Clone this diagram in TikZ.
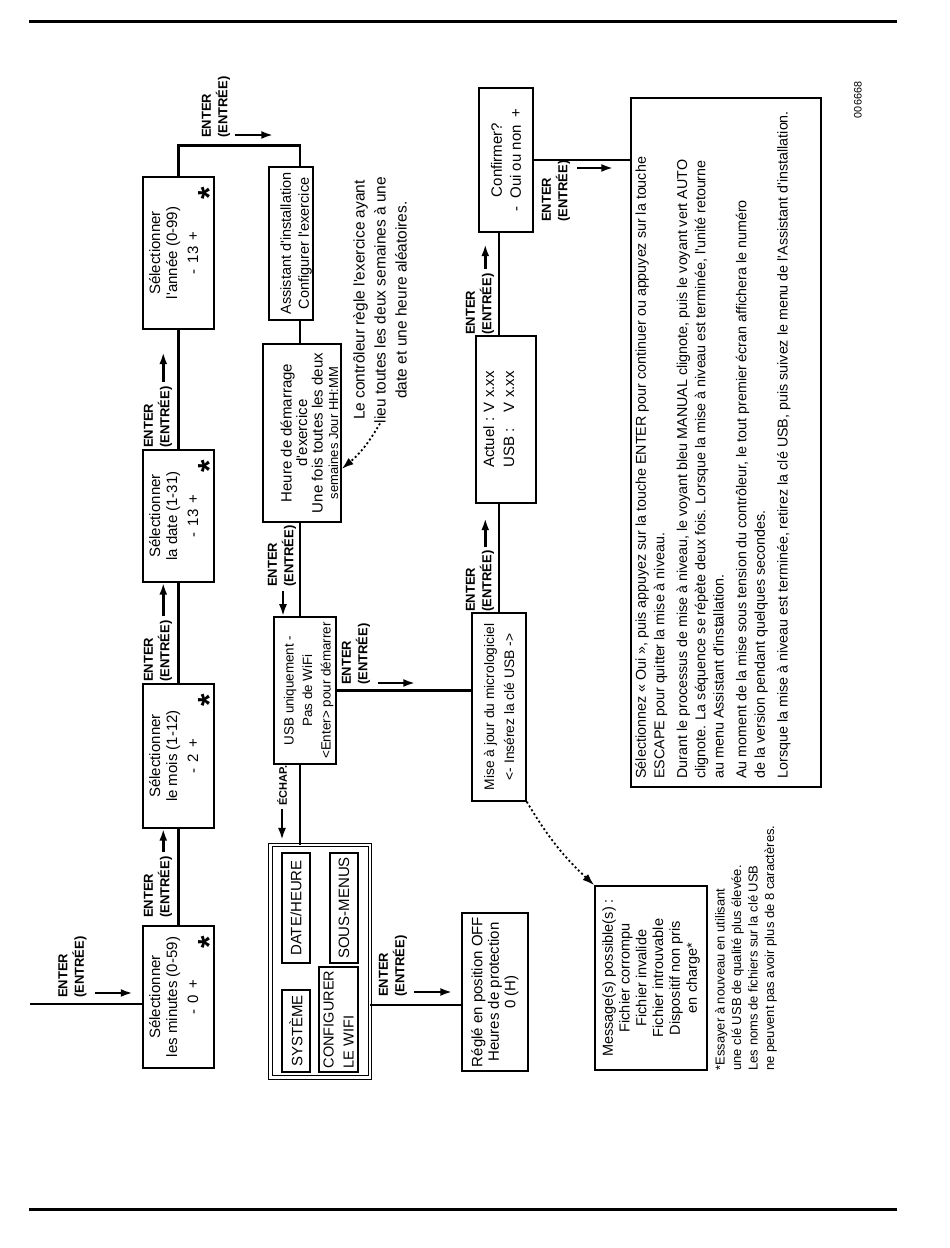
\documentclass[tikz,border=0pt]{standalone}
\usepackage{fontspec}
\setmainfont{Liberation Sans}[Ligatures=TeXOff]
\usepackage{tikz}
\usetikzlibrary{arrows.meta,positioning,calc}

\newcommand\boxfont{\fontsize{15}{17}\selectfont}
\newcommand\lblfont{\fontsize{13}{16.5}\selectfont\bfseries}
\newcommand\starfont{\fontsize{32}{32}\selectfont\bfseries}

\begin{document}
\begin{tikzpicture}[x=1pt, y=1pt, >={Latex[length=12pt, width=8pt]},
  box/.style={draw, line width=1.5pt, align=center, inner sep=0pt, font=\boxfont},
  subbox/.style={draw, line width=1.3pt, inner sep=0pt, font=\boxfont},
  enter/.style={align=left, inner sep=0pt, font=\lblfont},
  link/.style={line width=2.6pt},
  hint/.style={->, dash pattern=on 2pt off 2.5pt, line width=1.8pt},
  star/.style={inner sep=0pt, anchor=base, font=\starfont}]
  \useasboundingbox (0,0) rectangle (950,1248);
  % page rules
  \draw[line width=3pt] (29,1226) -- (897,1226);
  \draw[line width=3pt] (29,38) -- (897,38);

  \begin{scope}[rotate=90, transform shape]
  % date and time settings
  \node[box, minimum width=142, minimum height=71] (mins) at (251,-178.5)
    {Sélectionner\\les minutes (0-59)\\[4pt]-\hspace{6pt}0\hspace{6pt}+\rule[-10pt]{0pt}{10pt}};
  \node[box, minimum width=144, minimum height=71] (mois) at (492,-178.5)
    {Sélectionner\\le mois (1-12)\\[4pt]-\hspace{6pt}2\hspace{6pt}+\rule[-10pt]{0pt}{10pt}};
  \node[box, minimum width=132, minimum height=71] (date) at (732,-178.5)
    {Sélectionner\\la date (1-31)\\[4pt]-\hspace{6pt}13\hspace{6pt}+\rule[-10pt]{0pt}{10pt}};
  \node[box, minimum width=152, minimum height=71] (annee) at (995,-178.5)
    {Sélectionner\\l'année (0-99)\\[4pt]-\hspace{6pt}13\hspace{6pt}+\rule[-10pt]{0pt}{10pt}};
  \node[star] (minsstar) at ($(mins.south east)+(-17,-6)$) {*};
  \node[star] (moisstar) at ($(mois.south east)+(-17,-6)$) {*};
  \node[star] (datestar) at ($(date.south east)+(-17,-6)$) {*};
  \node[star] (anneestar) at ($(annee.south east)+(-17,-6)$) {*};

  % exercise and menus
  \node[box, minimum width=153, minimum height=44, font=\fontsize{14.5}{18}\selectfont] (assist) at (1004.5,-291)
    {\rule{0pt}{21pt}Assistant d'installation\\Configurer l'exercice};
  \node[box, minimum width=178, minimum height=78, font=\fontsize{15}{15.5}\selectfont] (heure) at (815,-302)
    {\rule{0pt}{26pt}Heure de démarrage\\d'exercice\\Une fois toutes les deux\\{\fontsize{13}{15.5}\selectfont semaines Jour HH:MM}};
  \node[align=center, inner sep=0pt, font=\fontsize{15.5}{21}\selectfont] (note) at (948,-380)
    {Le contrôleur règle l'exercice ayant\\lieu toutes les deux semaines à une\\date et une heure aléatoires.};
  \node[box, minimum width=147, minimum height=62, font=\fontsize{13.4}{18.5}\selectfont] (usb) at (557.5,-305)
    {\rule{0pt}{17pt}USB uniquement -\\Pas de WiFi\\<Enter>\hspace{4pt}pour démarrer};
  \node[draw, double, double distance=2.5pt, line width=1pt, minimum width=232.5, minimum height=99.5] (menu) at (286.5,-320) {};
  \node[subbox, minimum width=82, minimum height=28] (sys) at (217,-296) {SYSTÈME};
  \node[subbox, minimum width=110, minimum height=28] (dateh) at (340,-296) {DATE/HEURE};
  \node[subbox, minimum width=105, minimum height=39, align=left, font=\fontsize{14.5}{20}\selectfont] (wifi) at (228.5,-338.5) {CONFIGURER\\LE WIFI};
  \node[subbox, minimum width=110, minimum height=28] (sousm) at (340,-344) {SOUS-MENUS};
  \node[box, minimum width=158, minimum height=66, font=\fontsize{15}{16.5}\selectfont] (reglage) at (256,-495)
    {Réglé en position OFF\\Heures de protection\\0 (H)};

  % firmware update
  \node[box, minimum width=188, minimum height=54, font=\fontsize{13.8}{20}\selectfont] (maj) at (541,-499)
    {Mise à jour du micrologiciel\\<- Insérez la clé USB ->};
  \node[box, minimum width=167, minimum height=60, font=\fontsize{15}{20}\selectfont] (actuel) at (828.5,-506)
    {\begin{tabular}{@{}l@{ }l@{}}Actuel :&V x.xx\\USB :&V x.xx\rule[-18pt]{0pt}{18pt}\end{tabular}};
  \node[box, minimum width=144, minimum height=54, font=\fontsize{15}{19}\selectfont] (confirm) at (1088,-506)
    {Confirmer?\\-\hspace{8pt}Oui ou non\hspace{8pt}+};
  \node[draw, line width=1.5pt, minimum width=689, minimum height=190, inner sep=0pt] (info) at (805.5,-726) {};
  \node[anchor=north west, align=left, inner sep=0pt, font=\fontsize{14.3}{18.3}\selectfont] (infotext) at ($(info.north west)+(9,-5)$)
    {Sélectionnez « Oui », puis appuyez sur la touche ENTER pour continuer ou appuyez sur la touche\\
     ESCAPE pour quitter la mise à niveau.\\[4.5pt]
     Durant le processus de mise à niveau, le voyant bleu MANUAL clignote, puis le voyant vert AUTO\\
     clignote. La séquence se répète deux fois. Lorsque la mise à niveau est terminée, l'unité retourne\\
     au menu Assistant d'installation.\\[4.5pt]
     Au moment de la mise sous tension du contrôleur, le tout premier écran affichera le numéro\\
     de la version pendant quelques secondes.\\[4.5pt]
     Lorsque la mise à niveau est terminée, retirez la clé USB, puis suivez le menu de l'Assistant d'installation.};
  \node[box, minimum width=184, minimum height=112, font=\fontsize{14.5}{16.8}\selectfont] (msg) at (270,-651)
    {Message(s) possible(s) :\\Fichier corrompu\\Fichier invalide\\Fichier introuvable\\Dispositif non pris\\en charge*};
  \node[anchor=north west, align=left, inner sep=0pt, font=\fontsize{13}{16.5}\selectfont] (footnote) at ($(msg.south west)+(0,-7)$)
    {*Essayer à nouveau en utilisant\\une clé USB de qualité plus élevée.\\Les noms de fichiers sur la clé USB\\ne peuvent pas avoir plus de 8 caractères.};
  \node[inner sep=0pt, font=\fontsize{10.8}{12}\selectfont] (code) at (1148,-858) {006668};

  % connectors
  \coordinate (entry) at (244,-30);
  \coordinate (spine) at (0,-300);
  \coordinate (drop) at (243,0);
  \draw[link] (entry) -- (entry |- mins.north);
  \draw[link] (mins.east) -- (mois.west);
  \draw[link] (mois.east) -- (date.west);
  \draw[link] (date.east) -- (annee.west);
  \draw[link] (annee.east) -- ++(31,0) |- (assist.east |- spine);
  \draw[link] (assist.west |- spine) -- (heure.east |- spine);
  \draw[link] (heure.west |- spine) -- (usb.east |- spine);
  \draw[link] (usb.west |- spine) -- (menu.east |- spine);
  \draw[link] (menu.south -| drop) -- (reglage.north -| drop);
  \draw[link] (usb.south) -- (usb.south |- maj.north);
  \draw[link] (maj.east) -- (maj.east -| actuel.west);
  \draw[link] (maj.east -| actuel.east) -- (maj.east -| confirm.west);
  \draw[link] (confirm.south) -- (confirm.south |- info.north);
  \draw[hint] (note.west) to[bend left=10] ($(heure.south west)!0.3!(heure.south east)$);
  \draw[hint] (maj.south west) to[bend right=8] (msg.north east);

  % key labels
  \node[enter, anchor=west] (lbl0) at (250,-72.5) {ENTER\\(ENTRÉE)};
  \draw[->, link] (lbl0.south west) ++(5,-8) -- ++(0,-38);
  \node[enter, anchor=west] (lbl1) at (330,-158) {ENTER\\(ENTRÉE)};
  \path (lbl1.south east) ++(4,9) coordinate (t1);
  \draw[->, link] (t1) -- (t1 -| mois.west);
  \node[enter, anchor=west] (lbl2) at (566,-158) {ENTER\\(ENTRÉE)};
  \path (lbl2.south east) ++(4,9) coordinate (t2);
  \draw[->, link] (t2) -- (t2 -| date.west);
  \node[enter, anchor=west] (lbl3) at (800,-158) {ENTER\\(ENTRÉE)};
  \draw[->, link] (lbl3.south east) ++(4,9) -- ++(30,0);
  \node[enter, anchor=west] (lbl4) at (1110,-216) {ENTER\\(ENTRÉE)};
  \draw[->, link] (lbl4.south west) ++(3,-5) -- ++(0,-38);
  \node[enter, anchor=west] (lbl5) at (661,-282) {ENTER\\(ENTRÉE)};
  \path (lbl5.west) ++(-4,-1) coordinate (t5);
  \draw[->, link] (t5) -- (t5 -| usb.east);
  \node[enter, anchor=west, font=\fontsize{11}{13}\selectfont\bfseries] (lbl6) at (442,-282) {ÉCHAP.};
  \draw[->, link] (lbl6.west) ++(-3,0) -- ++(-31,0);
  \node[enter, anchor=west] (lbl7) at (251,-393) {ENTER\\(ENTRÉE)};
  \draw[->, link] (lbl7.south west) ++(5,-7) -- ++(0,-38);
  \node[enter, anchor=west] (lbl8) at (563,-356) {ENTER\\(ENTRÉE)};
  \draw[->, link] (lbl8.south west) ++(2,-8) -- ++(0,-37);
  \node[enter, anchor=west] (lbl9) at (636,-480) {ENTER\\(ENTRÉE)};
  \draw[->, link] (lbl9.south east) ++(3,9) -- ++(29,0);
  \node[enter, anchor=west] (lbl10) at (913,-480) {ENTER\\(ENTRÉE)};
  \draw[->, link] (lbl10.south east) ++(4,9) -- ++(25,0);
  \node[enter, anchor=west] (lbl11) at (1026,-556) {ENTER\\(ENTRÉE)};
  \draw[->, link] (lbl11.south west) ++(54,-7) -- ++(0,-36);
  \end{scope}
\end{tikzpicture}
\end{document}
